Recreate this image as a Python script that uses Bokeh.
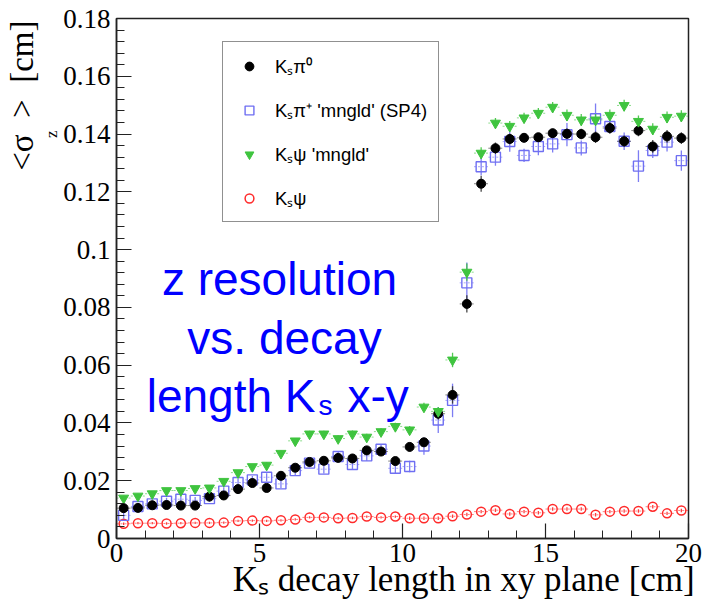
import math
from bokeh.plotting import figure
from bokeh.models import (ColumnDataSource, Range1d, FixedTicker, Label, Title,
                          Legend, LegendItem)
from bokeh.embed import file_html
from bokeh.resources import INLINE

# ---------------- data ----------------
bin_centers = [0.25 + 0.5 * i for i in range(40)]   # 0.5 cm bins, 0..20 cm
half_bin = 0.25

ks_pi0 = [0.0105, 0.0106, 0.0115, 0.0116, 0.0114, 0.0114, 0.0145, 0.0149, 0.0171, 0.0192,
          0.0175, 0.0217, 0.0245, 0.0265, 0.0269, 0.0279, 0.0277, 0.0305, 0.0301, 0.0268,
          0.0317, 0.0333, 0.0432, 0.0497, 0.0812, 0.1228, 0.1351, 0.1383, 0.1387, 0.1389,
          0.1403, 0.1401, 0.1400, 0.1389, 0.1421, 0.1375, 0.1412, 0.1357, 0.1392, 0.1386]
ks_pi0_err = [0.0008, 0.0008, 0.0008, 0.0008, 0.0008, 0.0008, 0.0008, 0.0008, 0.0009, 0.0009,
              0.0009, 0.0010, 0.0010, 0.0010, 0.0010, 0.0011, 0.0011, 0.0012, 0.0012, 0.0012,
              0.0015, 0.0015, 0.0020, 0.0030, 0.0030, 0.0028, 0.0020, 0.0018, 0.0015, 0.0015,
              0.0015, 0.0018, 0.0018, 0.0020, 0.0020, 0.0020, 0.0020, 0.0022, 0.0022, 0.0020]

ks_pip = [0.0080, 0.0111, 0.0120, 0.0129, 0.0136, 0.0132, 0.0138, 0.0164, 0.0194, 0.0203,
          0.0212, 0.0189, 0.0235, 0.0261, 0.0240, 0.0284, 0.0256, 0.0286, 0.0309, 0.0243,
          0.0249, 0.0320, 0.0410, 0.0478, 0.0885, 0.1287, 0.1320, 0.1374, 0.1326, 0.1357,
          0.1366, 0.1398, 0.1352, 0.1453, 0.1426, 0.1375, 0.1289, 0.1343, 0.1372, 0.1308]
ks_pip_err = [0.0012, 0.0012, 0.0012, 0.0012, 0.0012, 0.0012, 0.0012, 0.0013, 0.0013, 0.0013,
              0.0014, 0.0014, 0.0015, 0.0015, 0.0015, 0.0016, 0.0016, 0.0017, 0.0018, 0.0018,
              0.0020, 0.0030, 0.0045, 0.0058, 0.0070, 0.0030, 0.0030, 0.0035, 0.0023, 0.0030,
              0.0030, 0.0040, 0.0026, 0.0053, 0.0023, 0.0030, 0.0055, 0.0026, 0.0032, 0.0035]

ks_psi_mngld = [0.0140, 0.0147, 0.0155, 0.0166, 0.0166, 0.0173, 0.0175, 0.0198, 0.0228, 0.0249,
                0.0254, 0.0295, 0.0338, 0.0362, 0.0362, 0.0346, 0.0362, 0.0351, 0.0370, 0.0388,
                0.0376, 0.0455, 0.0440, 0.0618, 0.0922, 0.1334, 0.1438, 0.1427, 0.1456, 0.1472,
                0.1493, 0.1465, 0.1449, 0.1449, 0.1465, 0.1499, 0.1444, 0.1417, 0.1458, 0.1462]
ks_psi_mngld_err = [0.0008, 0.0008, 0.0008, 0.0008, 0.0008, 0.0008, 0.0008, 0.0009, 0.0009, 0.0009,
                    0.0010, 0.0010, 0.0010, 0.0011, 0.0011, 0.0011, 0.0012, 0.0012, 0.0012, 0.0013,
                    0.0013, 0.0015, 0.0015, 0.0025, 0.0030, 0.0020, 0.0018, 0.0018, 0.0018, 0.0018,
                    0.0018, 0.0020, 0.0020, 0.0020, 0.0020, 0.0020, 0.0020, 0.0020, 0.0020, 0.0020]

ks_psi = [0.0051, 0.0053, 0.0053, 0.0052, 0.0053, 0.0054, 0.0054, 0.0055, 0.0061, 0.0062,
          0.0061, 0.0063, 0.0066, 0.0073, 0.0073, 0.0070, 0.0071, 0.0076, 0.0073, 0.0076,
          0.0070, 0.0070, 0.0070, 0.0077, 0.0083, 0.0093, 0.0098, 0.0085, 0.0093, 0.0089,
          0.0102, 0.0102, 0.0102, 0.0082, 0.0093, 0.0095, 0.0095, 0.0110, 0.0087, 0.0097]
ks_psi_err = [0.0004] * 20 + [0.0006] * 20

legend_labels = ["Kₛπ⁰", "Kₛπ⁺ 'mngld' (SP4)", "Kₛψ 'mngld'", "Kₛψ"]
x_title = "Kₛ decay length in xy plane [cm]"
y_title_main = "<σ\u00a0\u00a0>\u00a0\u00a0[cm]"
y_title_sub = "z"
y_tick_values = [0, 0.02, 0.04, 0.06, 0.08, 0.1, 0.12, 0.14, 0.16, 0.18]
y_tick_labels = ["0", "0.02", "0.04", "0.06", "0.08", "0.1", "0.12", "0.14", "0.16", "0.18"]
x_tick_values = [0, 5, 10, 15, 20]

# ---------------- figure ----------------
W, H = 711, 613
L_B, R_B, T_B, B_B = 116, 23, 18, 75
p = figure(width=W, height=H, output_backend="svg", toolbar_location=None,
           x_range=Range1d(0, 20), y_range=Range1d(0, 0.18),
           min_border_left=L_B, min_border_right=R_B,
           min_border_top=T_B, min_border_bottom=B_B,
           background_fill_color="white", border_fill_color="white")
p.xgrid.visible = False
p.ygrid.visible = False
p.outline_line_color = "#222222"
p.outline_line_width = 1.5

FH = H - T_B - B_B
SERIF = "Liberation Serif"
SANS = "Liberation Sans"

# axes
p.xaxis.ticker = FixedTicker(ticks=x_tick_values,
                             minor_ticks=[i for i in range(0, 21)])
p.yaxis.ticker = FixedTicker(ticks=y_tick_values,
                             minor_ticks=[round(0.004 * i, 3) for i in range(0, 46)])
p.yaxis.major_label_overrides = {v: s for v, s in zip(y_tick_values, y_tick_labels)}
for ax in (p.xaxis, p.yaxis):
    ax.axis_line_color = "#222222"
    ax.axis_line_width = 1.5
    ax.major_tick_line_color = "#222222"
    ax.minor_tick_line_color = "#222222"
    ax.major_tick_line_width = 1.2
    ax.minor_tick_line_width = 1.0
    ax.major_tick_in = 15
    ax.major_tick_out = 0
    ax.minor_tick_in = 8
    ax.minor_tick_out = 0
    ax.major_label_text_font = SERIF
    ax.major_label_text_font_size = "27px"
    ax.major_label_text_color = "black"
p.xaxis.major_label_standoff = 5
p.yaxis.major_label_standoff = 6
p.yaxis.axis_label = None

# x axis title (shifted right of centre with leading no-break spaces)
p.xaxis.axis_label = "\u00a0" * 14 + x_title
p.xaxis.axis_label_text_font = SERIF
p.xaxis.axis_label_text_font_size = "35px"
p.xaxis.axis_label_text_font_style = "normal"
p.xaxis.axis_label_text_color = "black"
p.xaxis.axis_label_standoff = -5

# y axis title as side titles (subscript z next to the axis)
p.add_layout(Title(text=y_title_sub, align="right", offset=112, standoff=0,
                   text_font=SERIF, text_font_size="17px", text_font_style="normal",
                   text_color="black"), "left")
p.add_layout(Title(text=y_title_main, align="right", offset=2, standoff=0,
                   text_font=SERIF, text_font_size="33px", text_font_style="normal",
                   text_color="black"), "left")


def make_source(vals, errs):
    return ColumnDataSource(dict(
        x=bin_centers, y=vals,
        lo=[v - e for v, e in zip(vals, errs)],
        hi=[v + e for v, e in zip(vals, errs)],
        xl=[x - half_bin for x in bin_centers],
        xr=[x + half_bin for x in bin_centers]))


def error_bars(src, color):
    p.segment(x0="xl", y0="y", x1="xr", y1="y", source=src, line_color=color,
              line_width=1, line_dash="2 2", line_alpha=0.6)
    p.segment(x0="x", y0="lo", x1="x", y1="hi", source=src, line_color=color,
              line_width=1.3, line_alpha=0.9)


RED = "#ff2a2a"
BLUE = "#6f6ff2"
BLACK = "#000000"
GREEN = "#3fc43f"

s_red = make_source(ks_psi, ks_psi_err)
s_blue = make_source(ks_pip, ks_pip_err)
s_black = make_source(ks_pi0, ks_pi0_err)
s_green = make_source(ks_psi_mngld, ks_psi_mngld_err)

error_bars(s_red, RED)
r_red = p.scatter("x", "y", source=s_red, marker="circle", size=9,
                  fill_color="white", fill_alpha=0.0, line_color=RED, line_width=1.5)
error_bars(s_blue, BLUE)
r_blue = p.scatter("x", "y", source=s_blue, marker="square", size=10,
                   fill_alpha=0.0, line_color=BLUE, line_width=1.4)
error_bars(s_black, "#333333")
r_black = p.scatter("x", "y", source=s_black, marker="circle", size=9,
                    fill_color=BLACK, line_color=BLACK)
error_bars(s_green, GREEN)
r_green = p.scatter("x", "y", source=s_green, marker="inverted_triangle", size=10,
                    fill_color=GREEN, line_color=GREEN)

legend = Legend(items=[LegendItem(label=legend_labels[0], renderers=[r_black]),
                       LegendItem(label=legend_labels[1], renderers=[r_blue]),
                       LegendItem(label=legend_labels[2], renderers=[r_green]),
                       LegendItem(label=legend_labels[3], renderers=[r_red])],
                location=(106, 316),
                label_text_font=SANS, label_text_font_size="18.5px",
                label_text_color="black",
                glyph_width=30, glyph_height=22, label_height=22,
                spacing=19, padding=11, margin=0, label_standoff=11,
                border_line_color="#222222", border_line_width=1.5,
                background_fill_color="white", background_fill_alpha=1.0)
p.add_layout(legend)


def lab(text, px, py, size, font, color="black", align="left"):
    # px, py: pixel position in the page -> frame-relative screen units
    p.add_layout(Label(x=px - L_B, y=(T_B + FH) - py, x_units="screen", y_units="screen",
                       text=text, text_font=font,
                       text_font_size=f"{size}px", text_color=color,
                       text_align=align, text_baseline="alphabetic"))


# blue annotation text inside the frame
lab("z resolution", 279, 278, 46, SANS, "#0000ff", align="center")
lab("vs. decay", 284, 337, 46, SANS, "#0000ff", align="center")
lab("length K", 315, 395, 46, SANS, "#0000ff", align="right")
lab("s", 318, 405, 28, SANS, "#0000ff")
lab("x-y", 347, 395, 46, SANS, "#0000ff")

open("out.html", "w").write(file_html(p, INLINE))
